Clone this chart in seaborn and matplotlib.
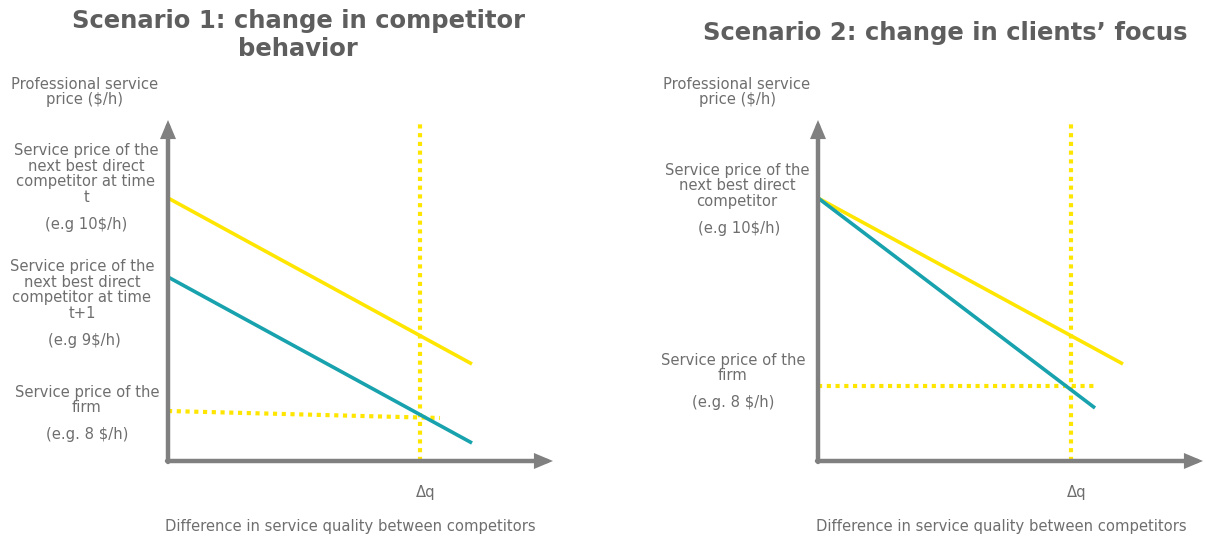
import matplotlib
matplotlib.use("Agg")
import matplotlib.pyplot as plt
import seaborn as sns
import pandas as pd

sns.set_style("white")
plt.rcParams["font.family"] = ["DejaVu Sans"]

YELLOW = "#FFE600"
TEAL = "#17A2AE"
AXIS_GRAY = "#808080"
TEXT_GRAY = "#6E6E6E"
TITLE_GRAY = "#5E5E5E"

W, H = 1206, 541
BODY = 10.65

# Scenario 1 (abstract price/quality units)
s1_q = [0.0, 30.4]
s1_price_t = [26.3, 9.7]        # next best competitor, time t
s1_price_t1 = [18.4, 1.8]       # next best competitor, time t+1
s1_firm_q = [0.0, 27.2]
s1_firm_price = [5.0, 4.3]
s1_dq = 25.2

# Scenario 2
s2_q_comp = [0.0, 30.5]
s2_price_comp = [26.3, 9.7]     # next best competitor
s2_q_focus = [0.0, 27.7]
s2_price_focus = [26.3, 5.3]    # competitor after clients' focus shift
s2_firm_q = [0.0, 27.9]
s2_firm_price = [7.5, 7.5]
s2_dq = 25.3

x_axis_end = 38.5
y_axis_end = 34.1
dq_top = 33.9

fig = plt.figure(figsize=(W / 100, H / 100), dpi=100)


def px_axes(x0, y0, x1, y1):
    # axes rectangle given in pixel coords (top-left origin)
    return fig.add_axes([x0 / W, 1 - y1 / H, (x1 - x0) / W, (y1 - y0) / H])


def ftext(x, y, s, size=BODY, color=TEXT_GRAY, weight="normal", ls=1.05):
    fig.text(x / W, 1 - y / H, s, ha="center", va="center", fontsize=size,
             color=color, fontweight=weight, linespacing=ls)


def setup(ax):
    ax.set_xlim(0, 39.2)
    ax.set_ylim(0, 35.1)
    ax.axis("off")
    kw = dict(arrowstyle="-|>,head_length=1.0,head_width=0.42", lw=3.2,
              color=AXIS_GRAY, shrinkA=0, shrinkB=0, mutation_scale=8,
              joinstyle="miter")
    ax.annotate("", xy=(x_axis_end, 0), xytext=(-0.1, 0), arrowprops=kw,
                annotation_clip=False)
    ax.annotate("", xy=(0, y_axis_end), xytext=(0, -0.1), arrowprops=kw,
                annotation_clip=False)


def seg(ax, xs, ys, color, dotted=False):
    df = pd.DataFrame({"q": xs, "p": ys})
    common = dict(data=df, x="q", y="p", ax=ax, color=color,
                  estimator=None, sort=False)
    if dotted:
        sns.lineplot(**common, lw=3.0, linestyle=(0, (1, 1.1)),
                     dash_capstyle="butt", zorder=1)
    else:
        sns.lineplot(**common, lw=2.6, solid_capstyle="butt", zorder=2)


# ---- Scenario 1 ----
ax1 = px_axes(168, 110, 560, 461)
setup(ax1)
seg(ax1, [s1_dq, s1_dq], [0, dq_top], YELLOW, dotted=True)
seg(ax1, s1_firm_q, s1_firm_price, YELLOW, dotted=True)
seg(ax1, s1_q, s1_price_t, YELLOW)
seg(ax1, s1_q, s1_price_t1, TEAL)
ax1.text(s1_dq + 0.6, -3.1, "Δq", ha="center", va="center", fontsize=BODY,
         color=TEXT_GRAY)

# ---- Scenario 2 ----
ax2 = px_axes(818, 110, 1210, 461)
setup(ax2)
seg(ax2, [s2_dq, s2_dq], [0, dq_top], YELLOW, dotted=True)
seg(ax2, s2_firm_q, s2_firm_price, YELLOW, dotted=True)
seg(ax2, s2_q_comp, s2_price_comp, YELLOW)
seg(ax2, s2_q_focus, s2_price_focus, TEAL)
ax2.text(s2_dq + 0.6, -3.1, "Δq", ha="center", va="center", fontsize=BODY,
         color=TEXT_GRAY)

# ---- titles ----
ftext(298, 35, "Scenario 1: change in competitor\nbehavior", size=17.5,
      color=TITLE_GRAY, weight="bold", ls=1.22)
ftext(945, 33, "Scenario 2: change in clients\u2019 focus", size=17.5,
      color=TITLE_GRAY, weight="bold")

# ---- axis captions ----
for cx in (85, 737):
    ftext(cx, 92, "Professional service\nprice ($/h)")
ftext(350, 527, "Difference in service quality between competitors")
ftext(1001, 527, "Difference in service quality between competitors")

# ---- left labels, scenario 1 ----
ftext(86, 174, "Service price of the\nnext best direct\ncompetitor at time\nt")
ftext(86, 224, "(e.g 10$/h)")
ftext(82, 290, "Service price of the\nnext best direct\ncompetitor at time\nt+1")
ftext(84, 340, "(e.g 9$/h)")
ftext(87, 400, "Service price of the\nfirm")
ftext(87, 434, "(e.g. 8 $/h)")

# ---- left labels, scenario 2 ----
ftext(737, 186, "Service price of the\nnext best direct\ncompetitor")
ftext(739, 228, "(e.g 10$/h)")
ftext(733, 368, "Service price of the\nfirm")
ftext(733, 402, "(e.g. 8 $/h)")

fig.savefig("out.png", dpi=100, facecolor="white")
